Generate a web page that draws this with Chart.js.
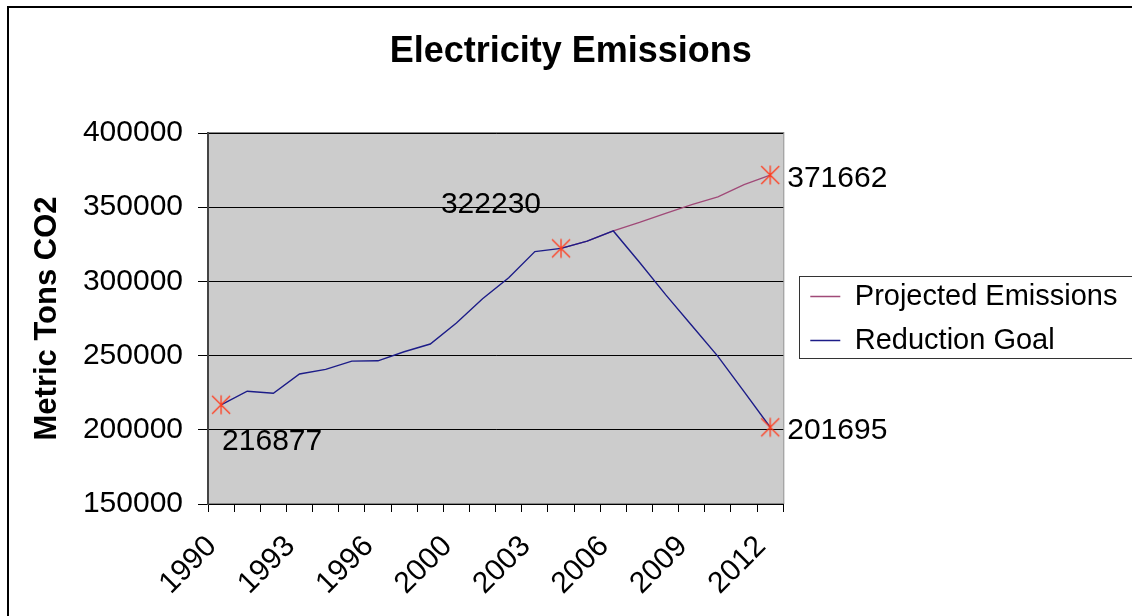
<!DOCTYPE html>
<html>
<head>
<meta charset="utf-8">
<script src="https://cdn.jsdelivr.net/npm/chart.js@4.4.0/dist/chart.umd.min.js"></script>
<style>
html,body{margin:0;padding:0;background:#fff;}
#wrap{width:1132px;height:616px;position:relative;overflow:hidden;}
</style>
</head>
<body>
<div id="wrap"><canvas id="c" width="1132" height="616"></canvas></div>
<script>
// ---- data ----
const years = ['1990','1991','1992','1993','1994','1995','1996','1997','1998','2000','2001',
               '2002','2003','2004','2005','2006','2007','2008','2009','2010','2011','2012'];
const tickYears = ['1990','1993','1996','2000','2003','2006','2009','2012'];
const projectedEmissions = [null,null,null,null,null,null,null,null,null,null,null,null,null,
                            322230,327200,334000,339700,345900,351800,356900,365200,371662];
const reductionGoal = [216877,226000,224600,237600,240700,246300,246500,252600,257800,272000,288300,
                       302400,320100,322230,327100,334000,312900,291100,270300,249500,225700,201695];
const projectedMarked = [21];
const reductionMarked = [0,13,21];
const yMin = 150000, yMax = 400000, yStep = 50000;

// ---- styles ----
const FONT = "'Liberation Sans', Arial, sans-serif";

function asteriskMarker(color){
  const s = 22, c = document.createElement('canvas');
  c.width = s; c.height = s;
  const g = c.getContext('2d');
  const m = s/2, r = 9;
  g.strokeStyle = color; g.lineWidth = 1.3;
  g.beginPath();
  g.moveTo(m, m - r - 0.5); g.lineTo(m, m + r + 0.5);
  g.moveTo(m - r, m - r); g.lineTo(m + r, m + r);
  g.moveTo(m - r, m + r); g.lineTo(m + r, m - r);
  g.stroke();
  return c;
}
const marker = asteriskMarker('#ff3c1e');

const bgPlugin = {
  id: 'bg',
  beforeDraw(chart){
    const ctx = chart.ctx, a = chart.chartArea;
    ctx.save();
    ctx.fillStyle = '#fff';
    ctx.fillRect(0, 0, chart.width, chart.height);
    ctx.strokeStyle = '#000'; ctx.lineWidth = 2;
    ctx.beginPath();
    ctx.moveTo(8, chart.height + 4); ctx.lineTo(8, 7); ctx.lineTo(chart.width + 4, 7);
    ctx.stroke();
    ctx.fillStyle = '#cccccc';
    ctx.fillRect(a.left, a.top, a.right - a.left, a.bottom - a.top);
    ctx.strokeStyle = '#888'; ctx.lineWidth = 1;
    ctx.strokeRect(Math.round(a.left) + 0.5, Math.round(a.top) - 0.5, a.right - a.left, a.bottom - a.top);
    ctx.restore();
  }
};

const legendShift = {
  id: 'legendShift',
  afterLayout(chart){
    const lg = chart.legend;
    if (lg) { lg.left += 12; lg.right += 12; }
  },
  afterDraw(chart){
    const lg = chart.legend;
    if (!lg || !lg.legendHitBoxes || !lg.legendHitBoxes.length) return;
    const hb = lg.legendHitBoxes, last = hb[hb.length - 1];
    const l = Math.round(hb[0].left - 11) + 0.5;
    const t = Math.round(hb[0].top - 6) + 0.5;
    const b = Math.round(last.top + last.height + 3) + 0.5;
    const ctx = chart.ctx;
    ctx.save();
    ctx.strokeStyle = '#333'; ctx.lineWidth = 1;
    ctx.strokeRect(l, t, chart.width - l + 10, b - t);
    ctx.restore();
  }
};

const labelPlacement = [
  {ds: 1, i: 0,  dx: 1,   dy: 45,  align: 'left'},
  {ds: 1, i: 13, dx: -20, dy: -35, align: 'right'},
  {ds: 0, i: 21, dx: 17,  dy: 12,  align: 'left'},
  {ds: 1, i: 21, dx: 17,  dy: 12,  align: 'left'}
];
const valueLabels = {
  id: 'valueLabels',
  afterDatasetsDraw(chart){
    const ctx = chart.ctx;
    ctx.save();
    ctx.font = '30px ' + FONT;
    ctx.fillStyle = '#000';
    ctx.textBaseline = 'alphabetic';
    labelPlacement.forEach(p => {
      const el = chart.getDatasetMeta(p.ds).data[p.i];
      const v = chart.data.datasets[p.ds].data[p.i];
      if (!el || v == null) return;
      ctx.textAlign = p.align;
      ctx.fillText(String(v), el.x + p.dx, el.y + p.dy);
    });
    ctx.restore();
  }
};

new Chart(document.getElementById('c'), {
  type: 'line',
  data: {
    labels: years,
    datasets: [
      {
        label: 'Projected Emissions',
        data: projectedEmissions,
        borderColor: '#a04a78',
        backgroundColor: '#a04a78',
        borderWidth: 1.3,
        tension: 0,
        order: 2,
        pointStyle: marker,
        pointRadius: c => projectedMarked.includes(c.dataIndex) ? 9 : 0,
        pointHoverRadius: c => projectedMarked.includes(c.dataIndex) ? 9 : 0,
        spanGaps: false
      },
      {
        label: 'Reduction Goal',
        data: reductionGoal,
        borderColor: '#1c1c88',
        backgroundColor: '#1c1c88',
        borderWidth: 1.4,
        tension: 0,
        order: 1,
        pointStyle: marker,
        pointRadius: c => reductionMarked.includes(c.dataIndex) ? 9 : 0,
        pointHoverRadius: c => reductionMarked.includes(c.dataIndex) ? 9 : 0
      }
    ]
  },
  options: {
    responsive: false,
    animation: false,
    events: [],
    layout: { padding: { left: 26, right: 16.5, top: 0, bottom: 0 } },
    plugins: {
      title: {
        display: true,
        text: 'Electricity Emissions',
        color: '#000',
        font: { family: FONT, size: 36, weight: 'bold', lineHeight: 1.2 },
        padding: { top: 30, bottom: 59.8 }
      },
      legend: {
        display: true,
        position: 'right',
        fullSize: false,
        align: 'center',
        maxWidth: 420,
        labels: {
          color: '#000',
          font: { family: FONT, size: 29 },
          usePointStyle: true,
          pointStyle: 'line',
          pointStyleWidth: 30,
          padding: 15,
          sort: (a, b) => a.datasetIndex - b.datasetIndex
        }
      },
      tooltip: { enabled: false }
    },
    scales: {
      x: {
        type: 'category',
        offset: true,
        grid: { display: true, drawOnChartArea: false, drawTicks: true, tickLength: 8, color: '#000', offset: true },
        border: { display: true, color: '#000', width: 1 },
        ticks: {
          autoSkip: false,
          maxRotation: 45,
          minRotation: 45,
          padding: 17,
          labelOffset: -9,
          color: '#000',
          font: { family: FONT, size: 30 },
          callback: function(v, i){ const l = this.getLabelForValue(v); return tickYears.includes(l) ? l : ''; }
        },
        afterFit(scale){ scale.height = 112; }
      },
      y: {
        min: yMin,
        max: yMax,
        grid: { color: '#000', lineWidth: 1, drawTicks: true, tickLength: 10 },
        border: { display: true, color: '#444', width: 2 },
        ticks: {
          stepSize: yStep,
          padding: 15,
          color: '#000',
          font: { family: FONT, size: 30 },
          callback: v => String(v)
        },
        title: {
          display: true,
          text: 'Metric Tons CO2',
          color: '#000',
          font: { family: FONT, size: 31, weight: 'bold', lineHeight: 1.2 },
          padding: { top: 2.4, bottom: 0 }
        },
        afterFit(scale){ scale.width = 182; }
      }
    }
  },
  plugins: [bgPlugin, legendShift, valueLabels]
});
</script>
</body>
</html>
